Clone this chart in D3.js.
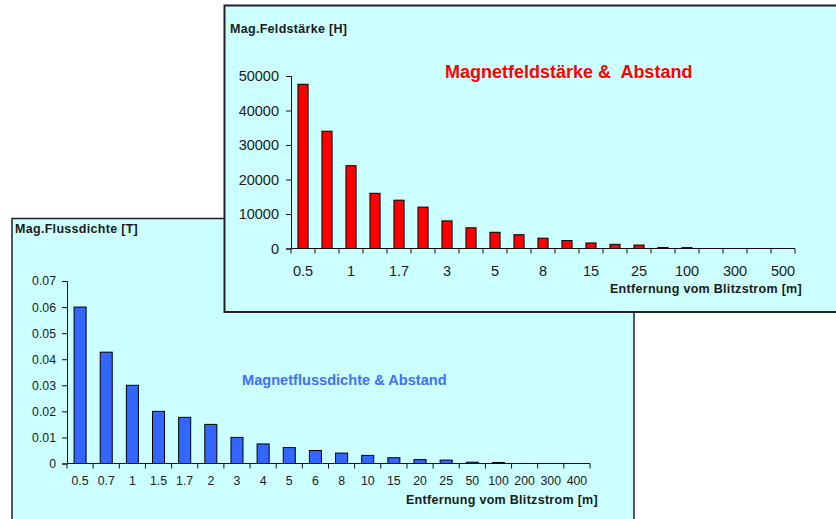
<!DOCTYPE html>
<html>
<head>
<meta charset="utf-8">
<script src="https://cdn.jsdelivr.net/npm/d3@7"></script>
<style>
  html, body { margin: 0; padding: 0; background: #ffffff; }
  svg { display: block; font-family: "Liberation Sans", Arial, sans-serif; }
</style>
</head>
<body>
<svg id="chart" width="836" height="519"></svg>
<script>
// Magnetic field strength H over distance from the lightning current
const fieldCategories = ["0.5","0.7","1","1.5","1.7","2","3","4","5","6","8","10","15","20","25","50","100","200","300","400","500"];
const fieldValues = [47600,34000,24000,16000,14000,12000,8000,6000,4700,4000,3000,2300,1600,1200,1000,300,250,0,0,0,0];
const fieldTicks = [0,10000,20000,30000,40000,50000];
const fieldShownLabels = ["0.5","1","1.7","3","5","8","15","25","100","300","500"];

// Magnetic flux density B over distance from the lightning current
const fluxCategories = ["0.5","0.7","1","1.5","1.7","2","3","4","5","6","8","10","15","20","25","50","100","200","300","400"];
const fluxValues = [0.06,0.0427,0.03,0.02,0.0177,0.015,0.01,0.0075,0.0061,0.005,0.004,0.0031,0.0022,0.0015,0.0013,0.0005,0.0004,0,0,0];
const fluxTicks = [0,0.01,0.02,0.03,0.04,0.05,0.06,0.07];

const svg = d3.select("#chart");

function drawPanel(cfg) {
  const g = svg.append("g");

  // panel background and frame
  g.append("rect")
    .attr("x", cfg.frame.x).attr("y", cfg.frame.y)
    .attr("width", cfg.frame.w).attr("height", cfg.frame.h)
    .attr("fill", "#ccffff")
    .attr("stroke", "#222").attr("stroke-width", cfg.frame.sw);

  const x = d3.scaleBand()
    .domain(cfg.categories)
    .range([cfg.plot.x0, cfg.plot.x1])
    .padding(0);

  const y = d3.scaleLinear()
    .domain([0, cfg.yMax])
    .range([cfg.plot.y0, cfg.plot.y1]);

  // bars
  const bw = x.bandwidth() * cfg.barFrac;
  g.append("g").selectAll("rect")
    .data(cfg.categories.map((c, i) => ({ c, v: cfg.values[i] })))
    .join("rect")
    .attr("x", d => x(d.c) + (x.bandwidth() - bw) / 2)
    .attr("y", d => y(d.v))
    .attr("width", bw)
    .attr("height", d => y(0) - y(d.v))
    .attr("fill", cfg.color)
    .attr("stroke", "#000")
    .attr("stroke-width", 1);

  // y axis
  const yAxis = d3.axisLeft(y)
    .tickValues(cfg.ticks)
    .tickSize(5)
    .tickPadding(cfg.yPad)
    .tickFormat(cfg.yFormat);
  const ya = g.append("g")
    .attr("transform", `translate(${cfg.plot.x0},0)`)
    .call(yAxis);
  ya.select(".domain").attr("stroke", "#111");
  ya.selectAll(".tick line").attr("stroke", "#111");
  ya.selectAll("text")
    .attr("font-size", cfg.tickFont)
    .attr("fill", "#1a1a1a")
    .attr("font-family", "Liberation Sans, Arial, sans-serif");

  // x axis line and category boundary ticks
  g.append("line")
    .attr("x1", cfg.plot.x0).attr("x2", cfg.plot.x1)
    .attr("y1", y(0)).attr("y2", y(0))
    .attr("stroke", "#111");
  const bounds = cfg.categories.map(c => x(c)).concat([x.range()[1]]);
  g.append("g").selectAll("line")
    .data(bounds)
    .join("line")
    .attr("x1", d => d).attr("x2", d => d)
    .attr("y1", y(0)).attr("y2", y(0) + 5)
    .attr("stroke", "#111");

  // x tick labels
  g.append("g").selectAll("text")
    .data(cfg.categories.filter(c => cfg.shown.includes(c)))
    .join("text")
    .attr("x", d => x(d) + x.bandwidth() / 2)
    .attr("y", y(0) + cfg.xLabelOffset)
    .attr("text-anchor", "middle")
    .attr("font-size", cfg.tickFont)
    .attr("fill", "#1a1a1a")
    .text(d => d);

  // axis titles
  g.append("text")
    .attr("x", cfg.yTitle.x).attr("y", cfg.yTitle.y)
    .attr("font-size", 12.5).attr("font-weight", "bold")
    .attr("letter-spacing", 0.3)
    .attr("fill", "#1a1a1a")
    .text(cfg.yTitle.text);

  g.append("text")
    .attr("x", cfg.xTitle.x).attr("y", cfg.xTitle.y)
    .attr("text-anchor", "end")
    .attr("font-size", 12.5).attr("font-weight", "bold")
    .attr("letter-spacing", 0.3)
    .attr("fill", "#1a1a1a")
    .text(cfg.xTitle.text);

  // chart title
  g.append("text")
    .attr("x", cfg.title.x).attr("y", cfg.title.y)
    .attr("font-size", cfg.title.size).attr("font-weight", "bold")
    .attr("fill", cfg.title.color)
    .style("white-space", "pre")
    .attr("xml:space", "preserve")
    .text(cfg.title.text);
}

// lower panel: flux density (drawn first, the field-strength panel overlaps it)
drawPanel({
  frame: { x: 12, y: 218.5, w: 622, h: 320, sw: 1.5 },
  plot: { x0: 67, x1: 590, y0: 463.5, y1: 281 },
  categories: fluxCategories,
  values: fluxValues,
  shown: fluxCategories,
  yMax: 0.07,
  ticks: fluxTicks,
  yFormat: d => d === 0 ? "0" : d3.format(".2f")(d),
  yPad: 6,
  tickFont: 12.3,
  xLabelOffset: 21.5,
  barFrac: 0.46,
  color: "#3366ff",
  yTitle: { x: 15, y: 232.5, text: "Mag.Flussdichte [T]" },
  xTitle: { x: 598, y: 504, text: "Entfernung vom Blitzstrom [m]" },
  title: { x: 242, y: 385, size: 14.6, color: "#3f6fff", text: "Magnetflussdichte & Abstand" }
});

// upper panel: field strength
drawPanel({
  frame: { x: 224.5, y: 5.5, w: 640, h: 306.5, sw: 2 },
  plot: { x0: 291, x1: 795, y0: 248.5, y1: 76 },
  categories: fieldCategories,
  values: fieldValues,
  shown: fieldShownLabels,
  yMax: 50000,
  ticks: fieldTicks,
  yFormat: d => String(d),
  yPad: 7,
  tickFont: 14.5,
  xLabelOffset: 27,
  barFrac: 0.42,
  color: "#ff0000",
  yTitle: { x: 230, y: 33, text: "Mag.Feldstärke [H]" },
  xTitle: { x: 802, y: 293, text: "Entfernung vom Blitzstrom [m]" },
  title: { x: 445, y: 78, size: 18, color: "#ff0000", text: "Magnetfeldstärke &  Abstand" }
});
</script>
</body>
</html>
